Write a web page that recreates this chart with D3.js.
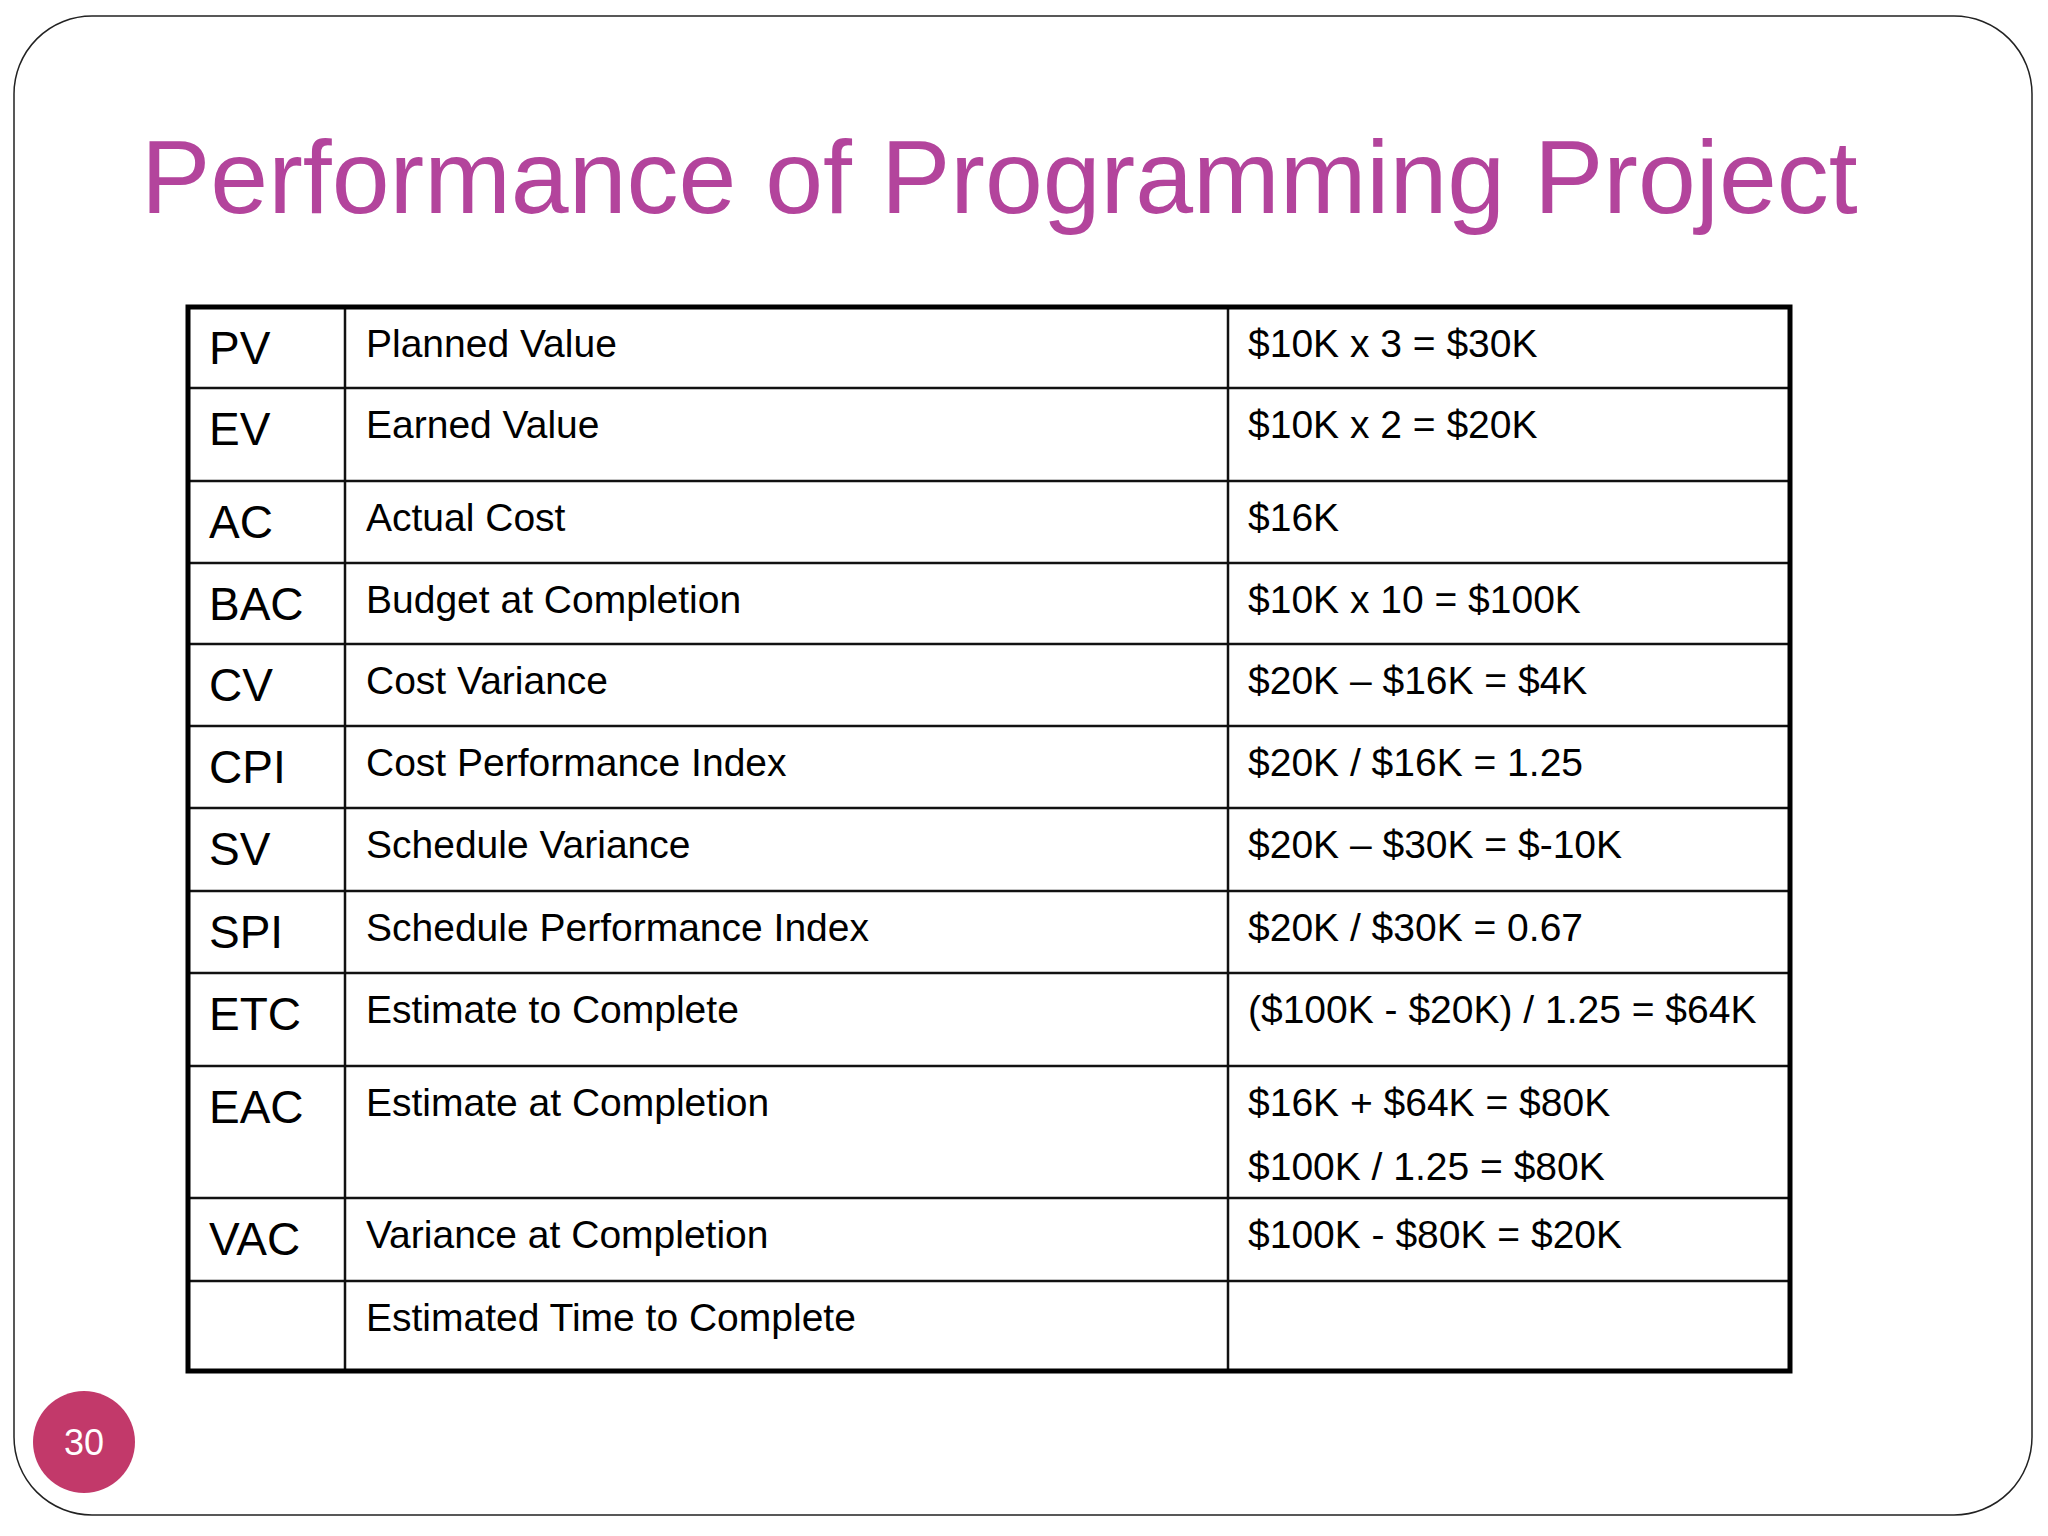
<!DOCTYPE html>
<html>
<head>
<meta charset="utf-8">
<script src="https://cdn.jsdelivr.net/npm/d3@7"></script>
<style>
  body { margin: 0; background: #fff; }
  svg { display: block; font-family: "Liberation Sans", Arial, sans-serif; }
</style>
</head>
<body>
<div class="chart"></div>
<script>
const title = "Performance of Programming Project";
const abbrs = ["PV", "EV", "AC", "BAC", "CV", "CPI", "SV", "SPI", "ETC", "EAC", "VAC", ""];
const names = ["Planned Value", "Earned Value", "Actual Cost", "Budget at Completion", "Cost Variance",
  "Cost Performance Index", "Schedule Variance", "Schedule Performance Index", "Estimate to Complete",
  "Estimate at Completion", "Variance at Completion", "Estimated Time to Complete"];
const formulas = [["$10K x 3 = $30K"], ["$10K x 2 = $20K"], ["$16K"], ["$10K x 10 = $100K"],
  ["$20K \u2013 $16K = $4K"], ["$20K / $16K = 1.25"], ["$20K \u2013 $30K = $-10K"],
  ["$20K / $30K = 0.67"], ["($100K - $20K) / 1.25 = $64K"], ["$16K + $64K = $80K", "$100K / 1.25 = $80K"],
  ["$100K - $80K = $20K"], []];
const pageNumber = "30";

// layout: row boundary positions (px)
const rowEdges = [307, 388, 481, 563, 644, 726, 808, 891, 973, 1066, 1198, 1281, 1371];
const colEdges = [188, 345, 1228, 1790];

const W = 2048, H = 1536;
const svg = d3.select(".chart").append("svg").attr("width", W).attr("height", H);

svg.append("rect")
  .attr("x", 14).attr("y", 16).attr("width", 2018).attr("height", 1499)
  .attr("rx", 78).attr("ry", 78)
  .attr("fill", "#fff").attr("stroke", "#222").attr("stroke-width", 1.5);

svg.append("text")
  .attr("x", 141).attr("y", 213)
  .attr("font-size", 104).attr("fill", "#B3449C")
  .text(title);

const y = i => rowEdges[i];
const g = svg.append("g");

// inner horizontal lines
g.selectAll("line.h").data(rowEdges.slice(1, -1)).enter().append("line")
  .attr("x1", colEdges[0]).attr("x2", colEdges[3])
  .attr("y1", d => d).attr("y2", d => d)
  .attr("stroke", "#111").attr("stroke-width", 2.5);

g.selectAll("line.v").data(colEdges.slice(1, -1)).enter().append("line")
  .attr("x1", d => d).attr("x2", d => d)
  .attr("y1", rowEdges[0]).attr("y2", rowEdges[rowEdges.length - 1])
  .attr("stroke", "#111").attr("stroke-width", 2.5);

g.append("rect")
  .attr("x", colEdges[0]).attr("y", rowEdges[0])
  .attr("width", colEdges[3] - colEdges[0])
  .attr("height", rowEdges[rowEdges.length - 1] - rowEdges[0])
  .attr("fill", "none").attr("stroke", "#000").attr("stroke-width", 5);

const rows = g.selectAll("g.row").data(abbrs).enter().append("g")
  .attr("transform", (d, i) => `translate(0,${y(i)})`);

rows.append("text")
  .attr("x", colEdges[0] + 21).attr("y", 57)
  .attr("font-size", 46).attr("fill", "#000")
  .text(d => d);

rows.append("text")
  .attr("x", colEdges[1] + 21).attr("y", 50)
  .attr("font-size", 39).attr("fill", "#000")
  .text((d, i) => names[i]);

rows.each(function(d, i) {
  d3.select(this).selectAll("text.f").data(formulas[i]).enter().append("text")
    .attr("x", colEdges[2] + 20).attr("y", (t, j) => 50 + j * 64)
    .attr("font-size", 39).attr("fill", "#000")
    .text(t => t);
});

svg.append("circle").attr("cx", 84).attr("cy", 1442).attr("r", 51).attr("fill", "#C2396A");
svg.append("text").attr("x", 84).attr("y", 1455)
  .attr("text-anchor", "middle").attr("font-size", 36).attr("fill", "#fff")
  .text(pageNumber);
</script>
</body>
</html>
